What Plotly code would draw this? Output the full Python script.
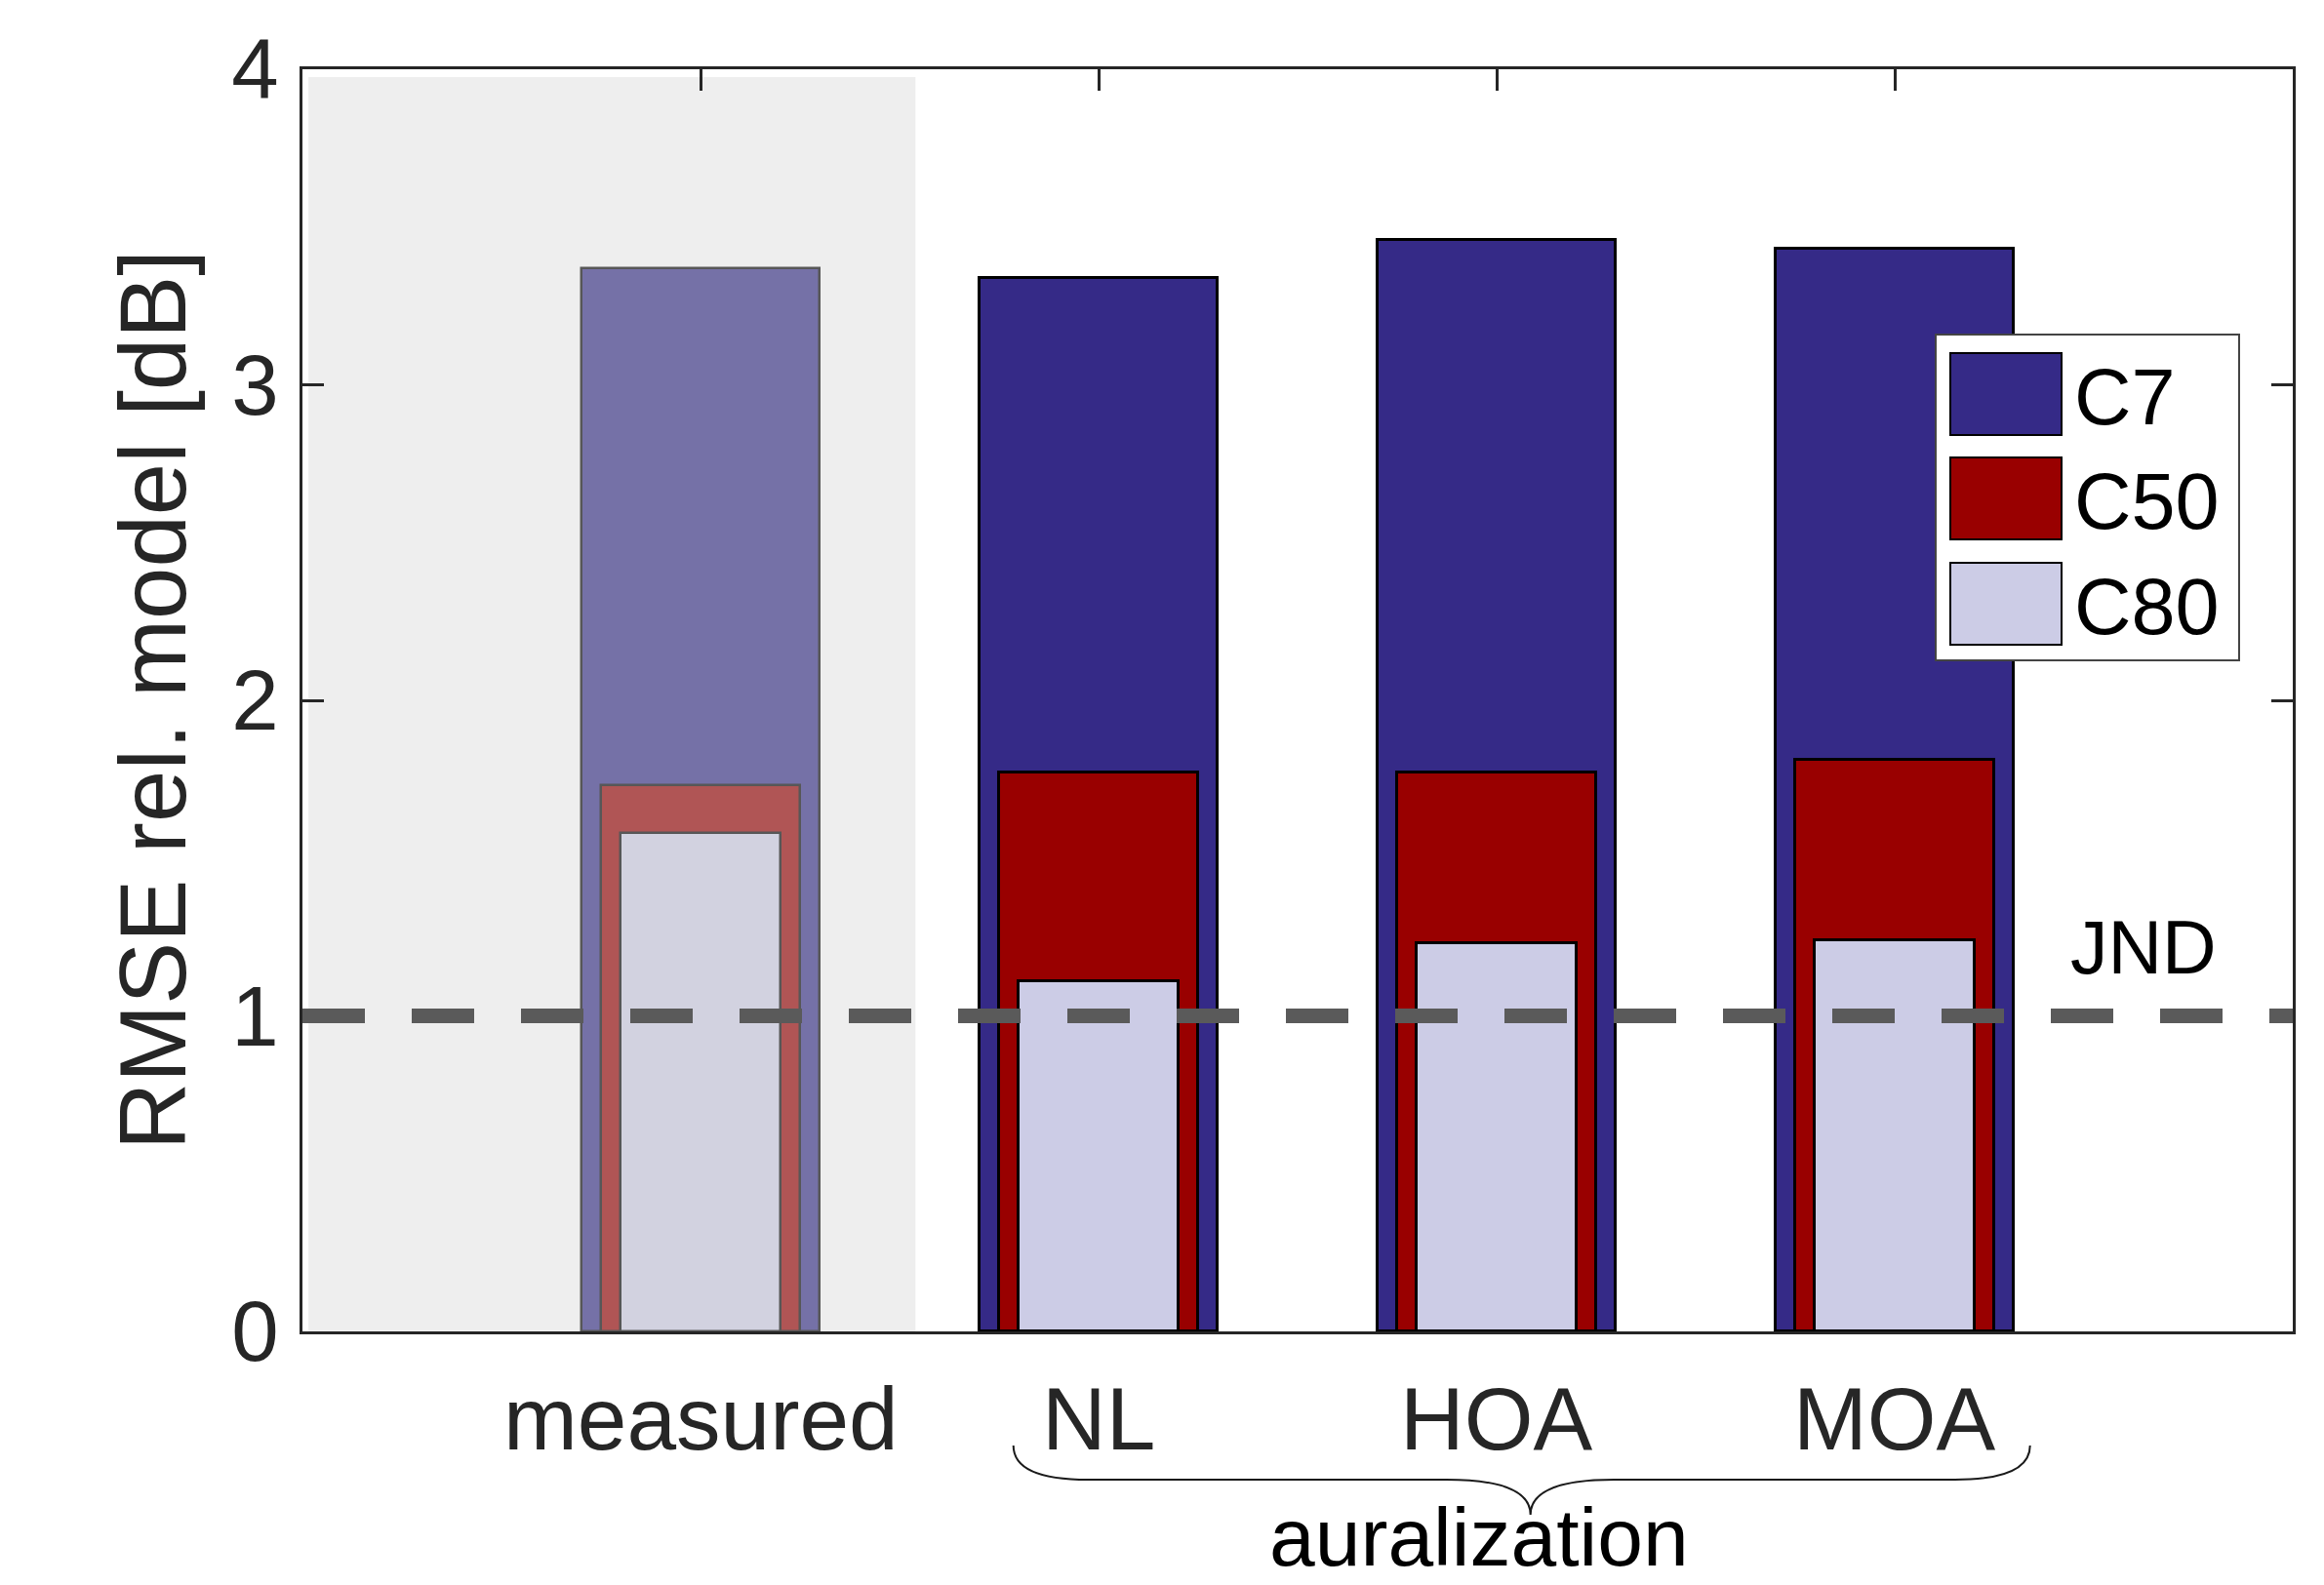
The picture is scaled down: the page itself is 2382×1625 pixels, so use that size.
import plotly.graph_objects as go

# --- data -------------------------------------------------------------
categories = ["measured", "NL", "HOA", "MOA"]
positions = [1, 2, 3, 4]
rmse_c7 = [3.37, 3.34, 3.46, 3.43]
rmse_c50 = [1.73, 1.77, 1.77, 1.81]
rmse_c80 = [1.58, 1.11, 1.23, 1.24]
jnd_level = 1.0
y_ticks = [0, 1, 2, 3, 4]

# --- style ------------------------------------------------------------
FONT = "Liberation Sans, Arial, sans-serif"
AX_COLOR = "#262626"
col_c7 = ["#7571a7", "#352a87", "#352a87", "#352a87"]
col_c50 = ["#b05555", "#990000", "#990000", "#990000"]
col_c80 = ["#d2d2e0", "#cccce6", "#cccce6", "#cccce6"]
edge_col = ["#575757", "black", "black", "black"]
edge_w = [2.5, 3, 3, 3]

W, H = 2382, 1625
ML, MR, MT, MB = 310, 32, 71, 260

fig = go.Figure()

for vals, cols, width, name in [
    (rmse_c7, col_c7, 0.6, "C7"),
    (rmse_c50, col_c50, 0.5, "C50"),
    (rmse_c80, col_c80, 0.4, "C80"),
]:
    fig.add_trace(go.Bar(
        x=positions, y=vals, width=width, name=name,
        marker=dict(color=cols, line=dict(color=edge_col, width=edge_w)),
        showlegend=False,
    ))

# JND reference line
fig.add_trace(go.Scatter(
    x=[0, 5], y=[jnd_level, jnd_level], mode="lines",
    line=dict(color="#5a5a5a", width=15, dash="64px,48px"),
    showlegend=False, hoverinfo="skip",
))

shapes = []
annotations = []

# shaded region behind the measured group
shapes.append(dict(type="rect", xref="x", yref="y", x0=0.015, x1=1.54,
                   y0=0, y1=3.975, fillcolor="#eeeeee",
                   line=dict(width=0), layer="below"))

# curly brace grouping the auralization methods
bx = dict(l=1.786, l2=1.974, m1=2.874, c=3.085, m2=3.295, r2=4.151, r=4.34)
by = dict(top=-0.0904, mid=-0.1175, tip=-0.1453)
brace = (f"M {bx['l']},{by['top']} Q {bx['l']},{by['mid']} {bx['l2']},{by['mid']} "
         f"L {bx['m1']},{by['mid']} Q {bx['c']},{by['mid']} {bx['c']},{by['tip']} "
         f"Q {bx['c']},{by['mid']} {bx['m2']},{by['mid']} "
         f"L {bx['r2']},{by['mid']} Q {bx['r']},{by['mid']} {bx['r']},{by['top']}")
shapes.append(dict(type="path", xref="x", yref="paper", path=brace,
                   line=dict(color="#1a1a1a", width=2)))

# category labels
for pos, lab in zip(positions, categories):
    annotations.append(dict(x=pos, y=-0.0695, xref="x", yref="paper",
                            text=lab, showarrow=False, xanchor="center",
                            yanchor="middle",
                            font=dict(family=FONT, size=91, color=AX_COLOR)))
annotations.append(dict(x=2.955, y=-0.1631, xref="x", yref="paper",
                        text="auralization", showarrow=False,
                        xanchor="center", yanchor="middle",
                        font=dict(family=FONT, size=84, color="black")))

# y-axis title
annotations.append(dict(x=(156 - ML) / (W - ML - MR), y=0.5, xref="paper",
                        yref="paper", text="RMSE rel. model [dB]",
                        textangle=-90, showarrow=False, xanchor="center",
                        yanchor="middle",
                        font=dict(family=FONT, size=96, color=AX_COLOR)))

# JND label
annotations.append(dict(x=4.624, y=1.218, xref="x", yref="y", text="JND",
                        showarrow=False, xanchor="center", yanchor="middle",
                        font=dict(family=FONT, size=77, color="black")))

# legend drawn as a framed box with swatches
pw, ph = W - ML - MR, H - MT - MB


def px(xp):
    return (xp - ML) / pw


def py(yp):
    return (H - MB - yp) / ph


shapes.append(dict(type="rect", xref="paper", yref="paper",
                   x0=px(1984), x1=px(2295), y0=py(677), y1=py(343),
                   fillcolor="white", line=dict(color="#444444", width=2),
                   layer="above"))
legend_rows = [("C7", "#352a87", 362, 446),
               ("C50", "#990000", 469, 553),
               ("C80", "#cccce6", 577, 661)]
for name, colr, top, bot in legend_rows:
    shapes.append(dict(type="rect", xref="paper", yref="paper",
                       x0=px(1999), x1=px(2113), y0=py(bot), y1=py(top),
                       fillcolor=colr, line=dict(color="black", width=2),
                       layer="above"))
    annotations.append(dict(x=px(2124), y=py((top + bot) / 2 + 3),
                            xref="paper", yref="paper", text=name,
                            showarrow=False, xanchor="left",
                            yanchor="middle",
                            font=dict(family=FONT, size=81, color="black")))

fig.update_layout(
    width=W, height=H,
    margin=dict(l=ML, r=MR, t=MT, b=MB),
    paper_bgcolor="white", plot_bgcolor="white",
    barmode="overlay", bargap=0,
    shapes=shapes, annotations=annotations,
    showlegend=False,
    xaxis=dict(range=[0, 5], tickvals=positions, showticklabels=False,
               ticks="inside", ticklen=22, tickwidth=2.5, tickcolor=AX_COLOR,
               showline=True, linewidth=3, linecolor=AX_COLOR,
               mirror="ticks", showgrid=False, zeroline=False,
               layer="below traces"),
    yaxis=dict(range=[0, 4], tickvals=y_ticks,
               ticks="inside", ticklen=22, tickwidth=2.5, tickcolor=AX_COLOR,
               showline=True, linewidth=3, linecolor=AX_COLOR,
               mirror="ticks", showgrid=False, zeroline=False,
               ticklabelstandoff=4,
               tickfont=dict(family=FONT, size=87, color=AX_COLOR),
               layer="below traces"),
)

fig.write_html("out.html")
